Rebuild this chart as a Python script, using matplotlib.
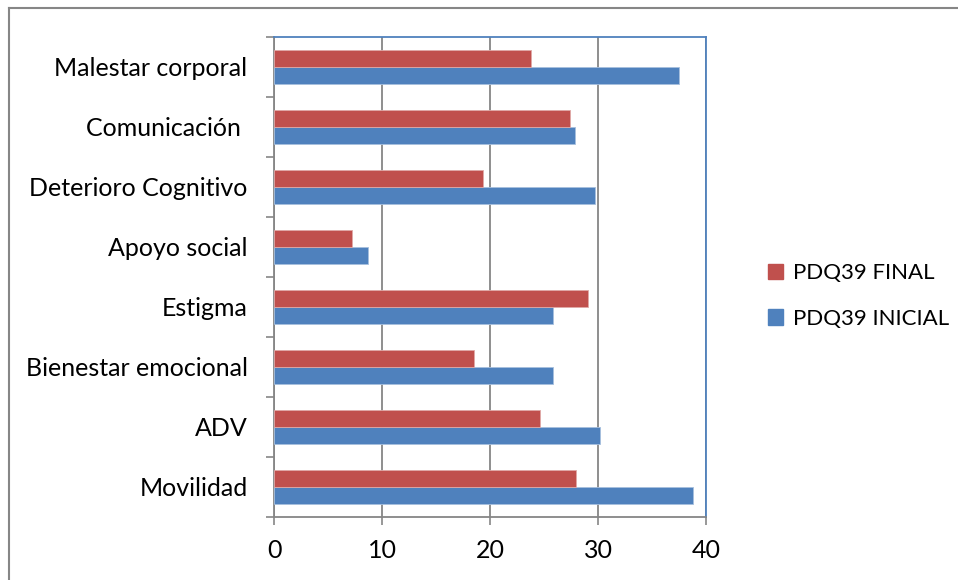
import matplotlib
matplotlib.use("Agg")
import matplotlib.pyplot as plt
from matplotlib.lines import Line2D
from matplotlib.patches import Patch
import numpy as np

plt.rcParams['font.family'] = ['Lato', 'DejaVu Sans']

categories = ["Movilidad", "ADV", "Bienestar emocional", "Estigma",
              "Apoyo social", "Deterioro Cognitivo", "Comunicación ",
              "Malestar corporal"]
inicial = [38.8, 30.2, 25.8, 25.8, 8.7, 29.7, 27.9, 37.5]
final = [28.0, 24.6, 18.5, 29.1, 7.25, 19.35, 27.4, 23.8]
x_ticks = [0, 10, 20, 30, 40]

blue = "#4F81BD"
red = "#C0504D"

W, H = 958, 580
fig = plt.figure(figsize=(W / 100, H / 100), dpi=100)
ax = fig.add_axes([274 / W, (H - 517) / H, (706 - 274) / W, (517 - 37) / H])

y = np.arange(len(categories))
h = 0.285
ax.barh(y - h / 2, inicial, height=h, color=blue, edgecolor="#A7C0DE",
        linewidth=0.6, zorder=3, label="PDQ39 INICIAL")
ax.barh(y + h / 2, final, height=h, color=red, edgecolor="#E0A9A7",
        linewidth=0.6, zorder=3, label="PDQ39 FINAL")

ax.set_xlim(0, 40)
ax.set_ylim(-0.5, len(categories) - 0.5)
ax.set_xticks(x_ticks)
ax.set_xticklabels([str(t) for t in x_ticks], fontsize=18)
ax.set_yticks(np.arange(len(categories) + 1) - 0.5, minor=False)
ax.set_yticklabels([])
ax.set_yticks(y, minor=True)
ax.set_yticklabels(categories, minor=True, fontsize=18)
ax.tick_params(axis='y', which='minor', length=0, pad=19)
ax.tick_params(axis='y', which='major', length=6, width=1.2, color="#868686")
ax.tick_params(axis='x', length=6, width=1.2, color="#868686", pad=10)

ax.grid(axis='x', color="#868686", linewidth=1.3, zorder=0)
ax.spines['left'].set_color("#868686")
ax.spines['bottom'].set_color("#868686")
ax.spines['left'].set_linewidth(1.3)
ax.spines['bottom'].set_linewidth(1.3)
ax.spines['top'].set_color(blue)
ax.spines['right'].set_color(blue)
ax.spines['top'].set_linewidth(1.3)
ax.spines['right'].set_linewidth(1.3)

handles = [Patch(facecolor=red, edgecolor=red),
           Patch(facecolor=blue, edgecolor=blue)]
fig.legend(handles, ["PDQ39 FINAL", "PDQ39 INICIAL"],
           loc="center left", bbox_to_anchor=(752 / W, 1 - 296 / H),
           frameon=False, fontsize=16, handlelength=0.7, handleheight=0.7,
           handletextpad=0.45, labelspacing=1.15, borderpad=0.2)

# outer chart frame
fig.add_artist(Line2D([9 / W, 9 / W], [0, 1 - 8 / H], color="#868686",
                      linewidth=1.5, transform=fig.transFigure))
fig.add_artist(Line2D([9 / W, 1], [1 - 8 / H, 1 - 8 / H], color="#868686",
                      linewidth=1.5, transform=fig.transFigure))

fig.savefig("out.png", dpi=100, facecolor="white")
